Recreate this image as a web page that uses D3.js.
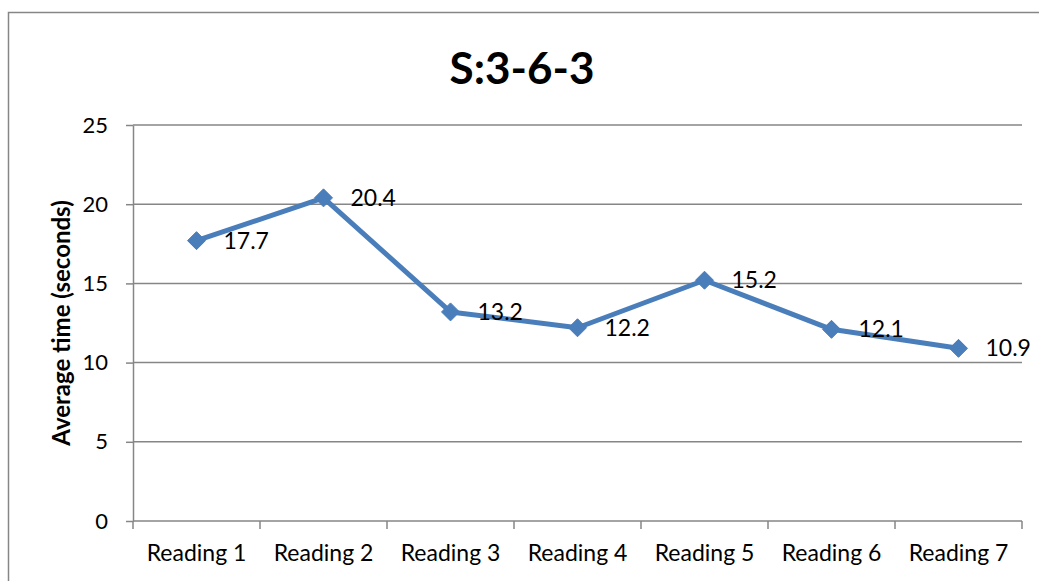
<!DOCTYPE html>
<html>
<head>
<meta charset="utf-8">
<script src="https://cdn.jsdelivr.net/npm/d3@7"></script>
<style>
  body { margin: 0; background: #fff; }
  text { font-family: Lato, "Open Sans", sans-serif; }
</style>
</head>
<body>
<div id="chart"></div>
<script>
// Data
const categories = ["Reading 1", "Reading 2", "Reading 3", "Reading 4", "Reading 5", "Reading 6", "Reading 7"];
const values = [17.7, 20.4, 13.2, 12.2, 15.2, 12.1, 10.9];
const yTicks = [0, 5, 10, 15, 20, 25];

const width = 1039;
const height = 581;
const plot = { left: 133, right: 1022, top: 125, bottom: 521 };

const svg = d3.select("#chart")
    .append("svg")
    .attr("width", width)
    .attr("height", height);

// outer frame
svg.append("rect")
    .attr("x", 8.5).attr("y", 12.5)
    .attr("width", 1040).attr("height", 600)
    .attr("fill", "none")
    .attr("stroke", "#868686")
    .attr("stroke-width", 1.5);

const x = d3.scaleBand()
    .domain(categories)
    .range([plot.left, plot.right]);

const y = d3.scaleLinear()
    .domain([0, 25])
    .range([plot.bottom, plot.top]);

// gridlines
svg.append("g")
    .selectAll("line")
    .data(yTicks.filter(d => d > 0))
    .join("line")
    .attr("x1", plot.left).attr("x2", plot.right)
    .attr("y1", d => y(d)).attr("y2", d => y(d))
    .attr("stroke", "#868686")
    .attr("stroke-width", 1.5);

// y axis
const yAxis = svg.append("g")
    .attr("transform", `translate(${plot.left},0)`)
    .call(d3.axisLeft(y).tickValues(yTicks).tickSize(7).tickPadding(18).tickSizeOuter(0));
yAxis.select(".domain").attr("stroke", "#868686").attr("stroke-width", 1.5);
yAxis.selectAll(".tick line").attr("stroke", "#868686").attr("stroke-width", 1.5);
yAxis.selectAll(".tick text")
    .attr("font-size", 22)
    .attr("font-family", "Lato, sans-serif")
    .attr("fill", "#000");

// x axis with ticks between categories
const xAxis = svg.append("g")
    .attr("transform", `translate(0,${plot.bottom})`);
xAxis.append("line")
    .attr("x1", plot.left).attr("x2", plot.right)
    .attr("stroke", "#868686").attr("stroke-width", 1.5);
const bounds = categories.map(c => x(c)).concat([x(categories[categories.length - 1]) + x.bandwidth()]);
xAxis.selectAll(".tk")
    .data(bounds)
    .join("line")
    .attr("x1", d => d).attr("x2", d => d)
    .attr("y1", 0).attr("y2", 8)
    .attr("stroke", "#868686").attr("stroke-width", 1.5);
xAxis.selectAll(".lbl")
    .data(categories)
    .join("text")
    .attr("x", d => x(d) + x.bandwidth() / 2)
    .attr("y", 40)
    .attr("text-anchor", "middle")
    .attr("font-size", 23)
    .attr("fill", "#000")
    .text(d => d);

// line
const pts = categories.map((c, i) => [x(c) + x.bandwidth() / 2, y(values[i])]);
svg.append("path")
    .attr("d", d3.line()(pts))
    .attr("fill", "none")
    .attr("stroke", "#4a7ebb")
    .attr("stroke-width", 5)
    .attr("stroke-linejoin", "round");

// markers
svg.selectAll(".mk")
    .data(pts)
    .join("path")
    .attr("transform", d => `translate(${d[0]},${d[1]})`)
    .attr("d", "M0,-9L9,0L0,9L-9,0Z")
    .attr("fill", "#4a7ebb")
    .attr("stroke", "#4a7ebb")
    .attr("stroke-width", 1);

// data labels
svg.selectAll(".dl")
    .data(values)
    .join("text")
    .attr("x", (d, i) => pts[i][0] + 27)
    .attr("y", (d, i) => pts[i][1])
    .attr("dy", "0.35em")
    .attr("font-size", 23)
    .attr("fill", "#000")
    .text(d => d.toFixed(1));

// title
svg.append("text")
    .attr("x", 522).attr("y", 84)
    .attr("text-anchor", "middle")
    .attr("font-size", 44)
    .attr("font-weight", "bold")
    .attr("fill", "#000")
    .text("S:3-6-3");

// y axis title
svg.append("text")
    .attr("transform", `translate(70,${(plot.top + plot.bottom) / 2}) rotate(-90)`)
    .attr("text-anchor", "middle")
    .attr("font-size", 24)
    .attr("font-weight", "bold")
    .attr("fill", "#000")
    .text("Average time (seconds)");
</script>
</body>
</html>
